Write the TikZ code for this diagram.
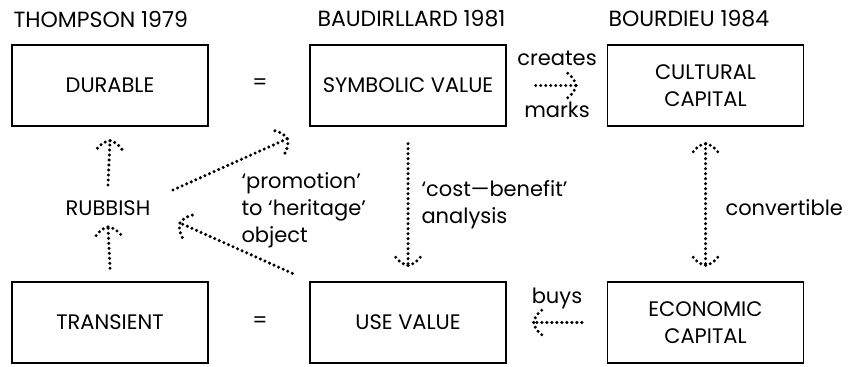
\documentclass[tikz,border=0pt]{standalone}
\usepackage{fontspec}
\setmainfont{Poppins}
\usetikzlibrary{decorations.markings}

\begin{document}
\begin{tikzpicture}[x=1pt, y=1pt,
	txt/.style={font=\fontsize{21}{27}\selectfont},
	box/.style={txt, draw, line width=1.4pt, minimum width=196pt, minimum height=81pt, align=center},
	dots/.style={line width=3.4pt, line cap=round, dash pattern=on 0pt off 5pt},
	tip/.style={dots, postaction=decorate, decoration={markings,
		mark=at position 1 with {\draw[dots] (0,0) .. controls (-2pt,7pt) .. (-10pt,14pt);
			\draw[dots] (0,0) .. controls (-2pt,-7pt) .. (-10pt,-14pt);}}},
	tips/.style={dots, postaction=decorate, decoration={markings,
		mark=at position 0 with {\draw[dots] (0,0) .. controls (2pt,7pt) .. (10pt,14pt);
			\draw[dots] (0,0) .. controls (2pt,-7pt) .. (10pt,-14pt);},
		mark=at position 1 with {\draw[dots] (0,0) .. controls (-2pt,7pt) .. (-10pt,14pt);
			\draw[dots] (0,0) .. controls (-2pt,-7pt) .. (-10pt,-14pt);}}}]
	\useasboundingbox (0,0) rectangle (852,367);
	% headings
	\node[txt, anchor=west, font=\fontsize{22}{27}\selectfont] (thompson) at (10,348) {THOMPSON 1979};
	\node[txt, anchor=west, font=\fontsize{22}{27}\selectfont] (baudrillard) at (314,348) {BAUDIRLLARD 1981};
	\node[txt, anchor=west, font=\fontsize{22}{27}\selectfont] (bourdieu) at (605,348) {BOURDIEU 1984};
	% boxes
	\node[box] (durable) at (110,281.5) {DURABLE};
	\node[box] (symbolic) at (408,281.5) {SYMBOLIC VALUE};
	\node[box] (cultural) at (705.5,281.5) {CULTURAL\\CAPITAL};
	\node[box] (transient) at (110,44.5) {TRANSIENT};
	\node[box] (use) at (408,44.5) {USE VALUE};
	\node[box] (economic) at (705.5,44.5) {ECONOMIC\\CAPITAL};
	\node[txt] (eqtop) at (260,283) {=};
	\node[txt] (eqbot) at (260,44.5) {=};
	\node[txt] (rubbish) at (108,159) {RUBBISH};
	% arrows
	\draw[tip] ([yshift=13pt]transient.north) -- ([yshift=-19pt]rubbish.center);
	\draw[tip] ([yshift=23pt]rubbish.center) -- ([yshift=-14pt]durable.south);
	\draw[tip] ([shift={(65pt,18pt)}]rubbish.center) -- ([shift={(-22pt,-12pt)}]symbolic.south west);
	\draw[tip] ([shift={(-17pt,8pt)}]use.north west) -- ([shift={(72pt,-15pt)}]rubbish.center);
	\draw[tip] ([yshift=-17pt]symbolic.south) -- ([yshift=16pt]use.north);
	\draw[tips] ([yshift=-17pt]cultural.south) -- ([yshift=16pt]economic.north);
	\draw[tip] ([xshift=29pt]symbolic.east) -- ([xshift=-31pt]cultural.west);
	\draw[tip] ([xshift=-25pt]economic.west) -- ([xshift=27pt]use.east);
	% labels
	\node[txt] (creates) at (557,309) {creates};
	\node[txt] (marks) at (557,257) {marks};
	\node[txt] (buys) at (557,69) {buys};
	\node[txt, anchor=west, align=left] (promotion) at (238,157) {‘promotion’\\to ‘heritage’\\object};
	\node[txt, anchor=west, align=left] (costbenefit) at (418,162) {‘cost—benefit’\\analysis};
	\node[txt, anchor=west] (convertible) at (722,159) {convertible};
\end{tikzpicture}
\end{document}
